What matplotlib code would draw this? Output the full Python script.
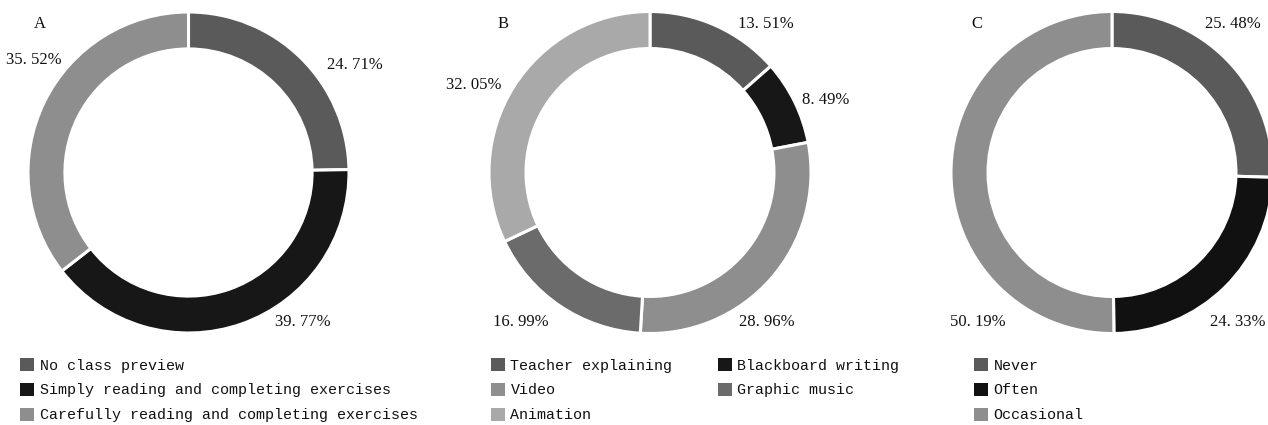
import matplotlib
matplotlib.use("Agg")
import matplotlib.pyplot as plt
from matplotlib.patches import Patch

# survey shares per panel, clockwise from 12 o'clock
a_labels = ["No class preview",
            "Simply reading and completing exercises",
            "Carefully reading and completing exercises"]
a_values = [24.71, 39.77, 35.52]

b_labels = ["Teacher explaining", "Blackboard writing", "Video",
            "Graphic music", "Animation"]
b_values = [13.51, 8.49, 28.96, 16.99, 32.05]

c_labels = ["Never", "Often", "Occasional"]
c_values = [25.48, 24.33, 50.19]

a_colors = ["#5a5a5a", "#171717", "#8e8e8e"]
b_colors = ["#5a5a5a", "#171717", "#8e8e8e", "#6b6b6b", "#a9a9a9"]
c_colors = ["#5a5a5a", "#111111", "#8e8e8e"]

W, H = 1268, 425
fig = plt.figure(figsize=(W / 100, H / 100), dpi=100)

serif = "Liberation Serif"
mono = "Liberation Mono"


def px_axes(cx, cy, r):
    # axes box in pixel units, y measured from the top
    return fig.add_axes([(cx - r) / W, (H - cy - r) / H, 2 * r / W, 2 * r / H])


def ptext(x, y, s, **kw):
    fig.text(x / W, 1 - y / H, s, ha="center", va="center",
             family=serif, fontsize=12, color="#111111", **kw)


def pct(v):
    return f"{v:.2f}%".replace(".", ". ")


def donut(cx, cy, r, values, colors):
    ax = px_axes(cx, cy, r)
    ax.pie(values, colors=colors, startangle=90, counterclock=False,
           radius=1.0,
           wedgeprops=dict(width=0.23, edgecolor="white", linewidth=2.2))
    ax.set_xlim(-1, 1)
    ax.set_ylim(-1, 1)
    ax.set_aspect("equal")
    ax.axis("off")
    return ax


donut(188.5, 172.5, 160.5, a_values, a_colors)
donut(650, 172.5, 161, b_values, b_colors)
donut(1112, 172.5, 161, c_values, c_colors)

# panel letters
ptext(40, 24, "A")
ptext(503, 24, "B")
ptext(977, 24, "C")

# percentage labels
a_pos = [(355, 65), (303, 322), (34, 60)]
for (x, y), v in zip(a_pos, a_values):
    ptext(x, y, pct(v))

b_pos = [(766, 24), (826, 100), (767, 322), (521, 322), (474, 85)]
for (x, y), v in zip(b_pos, b_values):
    ptext(x, y, pct(v))

c_pos = [(1233, 24), (1238, 322), (978, 322)]
for (x, y), v in zip(c_pos, c_values):
    ptext(x, y, pct(v))


def add_legend(x, y, labels, colors, ncol=1, order=None):
    handles = [Patch(facecolor=c, edgecolor="none") for c in colors]
    if order is not None:
        handles = [handles[i] for i in order]
        labels = [labels[i] for i in order]
    leg = fig.legend(handles, labels, loc="upper left",
                     bbox_to_anchor=(x / W, 1 - y / H),
                     bbox_transform=fig.transFigure, ncol=ncol,
                     frameon=False, borderpad=0, borderaxespad=0,
                     handlelength=0.95, handleheight=0.95,
                     handletextpad=0.35, labelspacing=0.68,
                     columnspacing=3.0,
                     prop=dict(family=mono, size=10.8))
    for t in leg.get_texts():
        t.set_color("#111111")
    return leg


add_legend(20, 358, a_labels, a_colors)
add_legend(491, 358, b_labels, b_colors, ncol=2, order=[0, 2, 4, 1, 3])
add_legend(974, 358, c_labels, c_colors)

fig.savefig("out.png", dpi=100)
